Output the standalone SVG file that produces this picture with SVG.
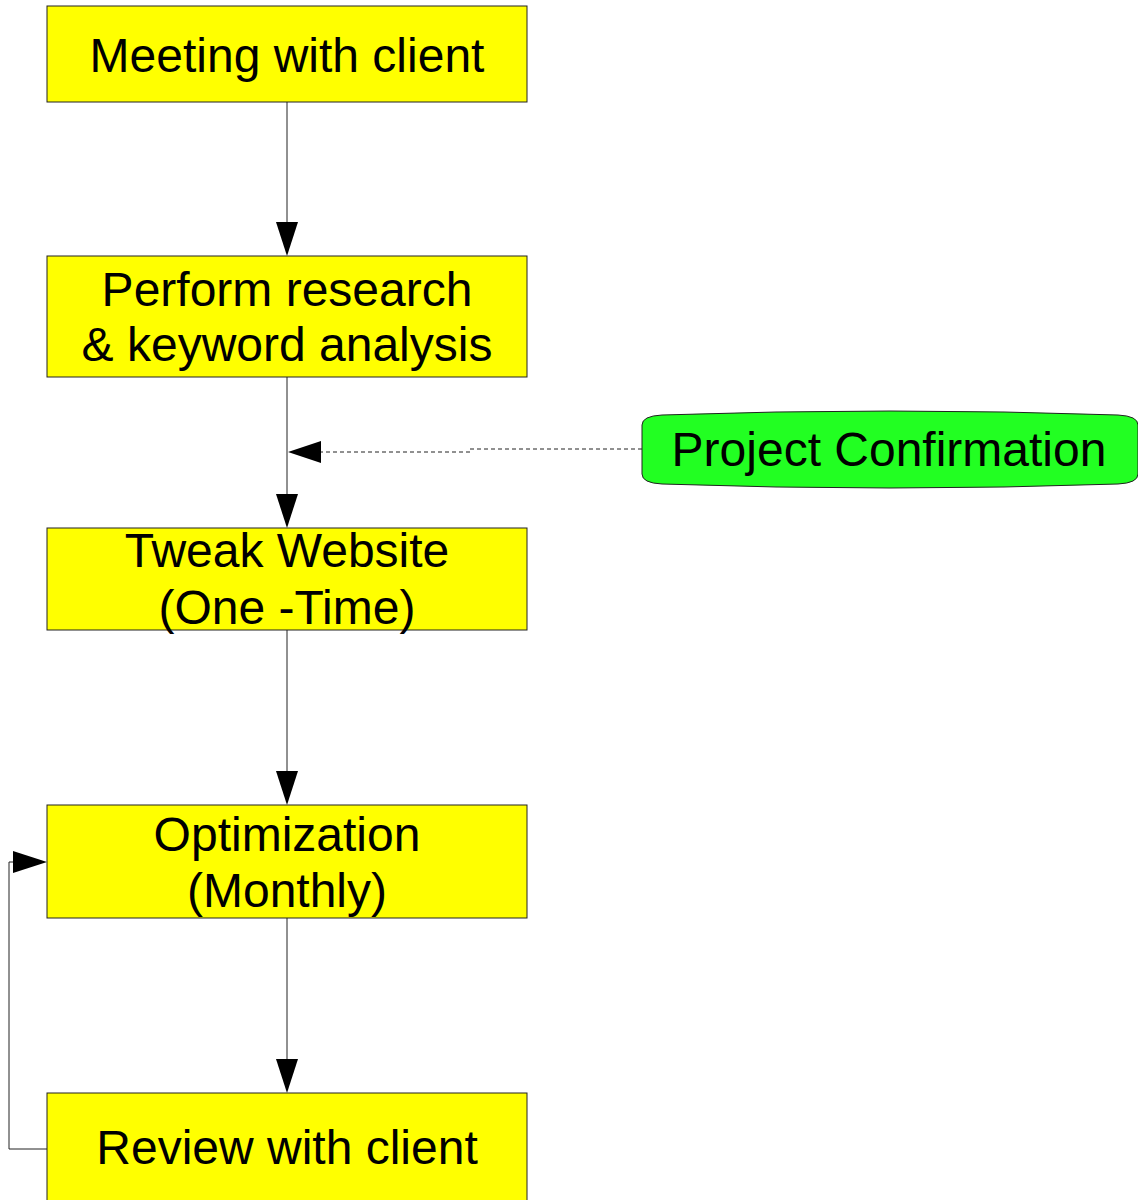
<svg xmlns="http://www.w3.org/2000/svg" width="1138" height="1200" viewBox="0 0 1138 1200">
<defs>
<style>
.box{fill:#ffff00;stroke:#222;stroke-width:1}
.t{font-family:"Liberation Sans",Arial,sans-serif;font-size:48px;fill:#000;text-anchor:middle}
.c{fill:none;stroke:#222;stroke-width:1}
.d{fill:none;stroke:#222;stroke-width:1;stroke-dasharray:4,3}
.h{fill:#000}
</style>
</defs>
<rect width="1138" height="1200" fill="#fff"/>
<g id="connectors">
<line class="c" x1="287" y1="102" x2="287" y2="224"/>
<polygon class="h" points="276,222 298,222 287,256"/>
<line class="c" x1="287" y1="377" x2="287" y2="496"/>
<polygon class="h" points="276,494 298,494 287,528"/>
<polyline class="d" points="642,449 470,449 470,452 320,452"/>
<polygon class="h" points="321,441 321,463 288,452"/>
<line class="c" x1="287" y1="630" x2="287" y2="773"/>
<polygon class="h" points="276,771 298,771 287,805"/>
<line class="c" x1="287" y1="918" x2="287" y2="1061"/>
<polygon class="h" points="276,1059 298,1059 287,1093"/>
<polyline class="c" points="47,1149 9,1149 9,862 15,862"/>
<polygon class="h" points="13,851 13,873 47,862"/>
</g>
<g id="n1"><rect class="box" x="47" y="6" width="480" height="96"/><text class="t" x="287" y="72">Meeting with client</text></g>
<g id="n2"><rect class="box" x="47" y="256" width="480" height="121"/><text class="t" x="287" y="306">Perform research</text><text class="t" x="287" y="361">&amp; keyword analysis</text></g>
<g id="n3"><rect class="box" x="47" y="528" width="480" height="102"/><text class="t" x="287" y="567">Tweak Website</text><text class="t" x="287" y="624">(One -Time)</text></g>
<g id="n4"><rect class="box" x="47" y="805" width="480" height="113"/><text class="t" x="287" y="851">Optimization</text><text class="t" x="287" y="907">(Monthly)</text></g>
<g id="n5"><rect class="box" x="47" y="1093" width="480" height="120"/><text class="t" x="287" y="1164">Review with client</text></g>
<g id="n6"><path d="M642,425 Q642,416 662,415 Q890,407 1118,415 Q1138,416 1138,425 V474 Q1138,483 1118,484 Q890,492 662,484 Q642,483 642,474 Z" fill="#22ff22" stroke="#222" stroke-width="1"/><text class="t" x="889" y="466">Project Confirmation</text></g>
</svg>
